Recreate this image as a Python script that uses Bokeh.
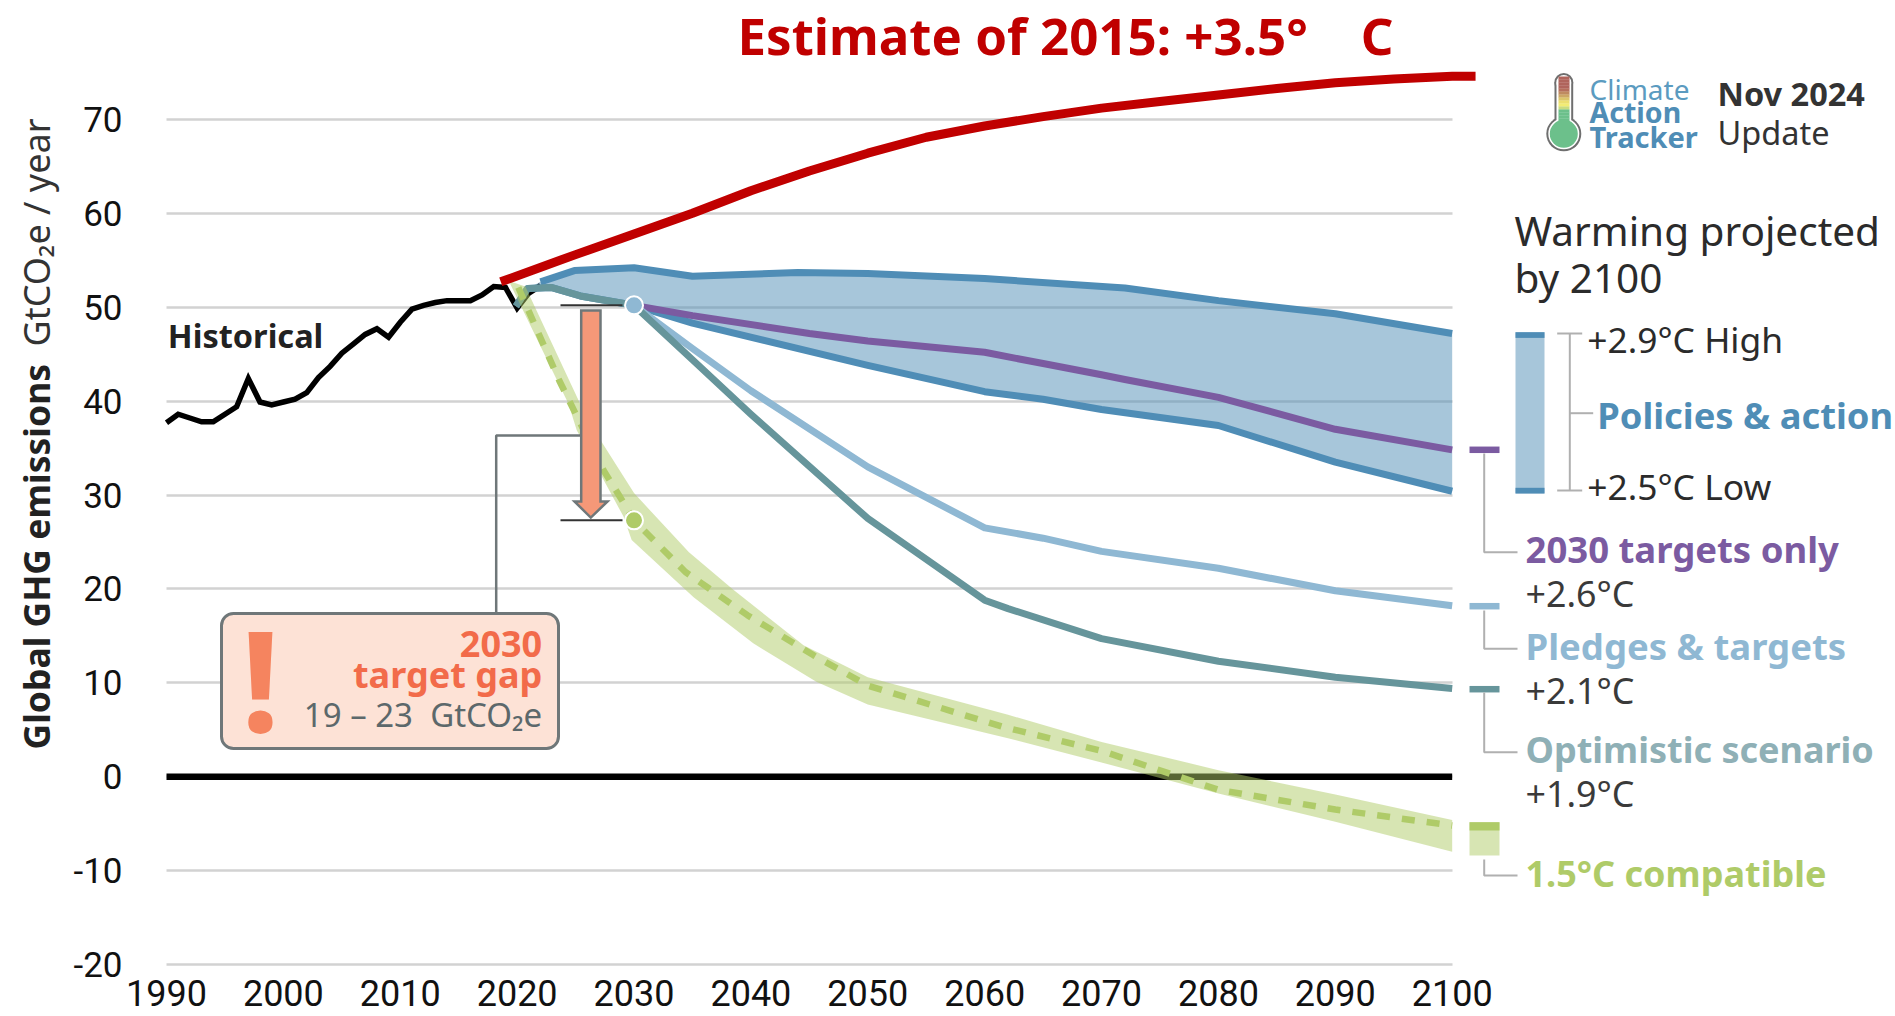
import math
from bokeh.plotting import figure
from bokeh.embed import file_html
from bokeh.resources import INLINE
from bokeh.models import Label, BoxAnnotation, FixedTicker, Range1d

# ---- data ----
hist_years = list(range(1990, 2023))
hist_vals = [37.7, 38.6, 38.2, 37.8, 37.8, 38.6, 39.4, 42.4, 39.9, 39.6, 39.9, 40.2, 40.9, 42.5, 43.7, 45.1, 46.1,
             47.1, 47.7, 46.8, 48.4, 49.8, 50.2, 50.5, 50.7, 50.7, 50.7, 51.3, 52.2, 52.1, 49.9, 51.5, 52.3]

est2015_years = [2018.6, 2025, 2030, 2035, 2040, 2045, 2050, 2055, 2060, 2065, 2070, 2075, 2080, 2085, 2090, 2095, 2100, 2102]
est2015_vals = [52.7, 55.6, 57.8, 60.0, 62.4, 64.5, 66.4, 68.1, 69.3, 70.3, 71.2, 71.9, 72.6, 73.3, 73.9, 74.3, 74.6, 74.6]

high_years = [2019.9, 2020.9, 2022, 2024.9, 2030, 2035, 2044, 2050, 2060, 2072, 2080, 2090, 2100]
high_vals = [50.1, 52.0, 52.7, 53.9, 54.2, 53.3, 53.7, 53.6, 53.05, 52.05, 50.7, 49.3, 47.2]
low_years = [2019.9, 2020.9, 2022.9, 2025.4, 2030, 2035, 2050, 2060, 2065, 2070, 2080, 2090, 2100]
low_vals = [50.1, 52.0, 52.1, 51.2, 50.2, 48.3, 43.8, 41.0, 40.2, 39.1, 37.4, 33.5, 30.4]

targets_years = [2030, 2035, 2045, 2050, 2060, 2065, 2070, 2072, 2080, 2090, 2100]
targets_vals = [50.2, 49.1, 47.2, 46.4, 45.2, 44.0, 42.8, 42.3, 40.4, 37.0, 34.8]

pledges_years = [2030, 2035, 2040, 2050, 2060, 2065, 2070, 2080, 2090, 2100]
pledges_vals = [50.2, 45.6, 41.1, 33.0, 26.5, 25.4, 24.0, 22.2, 19.8, 18.2]

optimistic_years = [2019.9, 2020.9, 2022.9, 2025.4, 2030, 2035, 2040, 2050, 2060, 2062, 2070, 2080, 2090, 2100]
optimistic_vals = [50.1, 52.0, 52.1, 51.2, 50.2, 44.4, 38.6, 27.5, 18.8, 17.9, 14.7, 12.3, 10.6, 9.4]

c15_top_years = [2019.5, 2020.7, 2025.4, 2027.3, 2030, 2034.7, 2038.5, 2044.5, 2050, 2062, 2070, 2080, 2090, 2100]
c15_top_vals = [52.7, 52.2, 39.7, 35.5, 30.2, 23.9, 19.9, 14.0, 10.6, 6.6, 3.7, 0.7, -1.9, -4.6]
c15_low_years = [2019.4, 2024.4, 2025.1, 2029.1, 2029.8, 2035.1, 2040.2, 2045.6, 2050, 2062, 2070, 2080, 2090, 2100]
c15_low_vals = [52.5, 39.7, 36.9, 27.7, 25.2, 19.1, 14.2, 10.1, 7.7, 4.1, 1.5, -1.8, -4.8, -8.0]
c15_mid_years = [2020.1, 2023.6, 2027.4, 2028.7, 2030, 2034.4, 2039.7, 2045.4, 2050, 2061.6, 2070, 2080, 2090, 2100]
c15_mid_vals = [52.1, 42.2, 32.6, 30.0, 27.3, 21.8, 17.2, 12.9, 9.7, 5.3, 2.75, -1.4, -3.5, -5.2]

gap_year = 2030
gap_top = 50.2
gap_bottom = 27.3

x_ticks = list(range(1990, 2101, 10))
y_ticks = list(range(-20, 71, 10))

RED = "#c00000"; BLUE = "#4f8db6"; PURPLE = "#7b5ba1"; PLEDGE = "#8fb8d3"; TEAL = "#66959b"
GREEN = "#afcb68"; ORANGE = "#f59878"; GRAY = "#6f7779"; BRK = "#b0b0b0"
FONT = "Noto Sans"

# page-pixel helpers: the chart's data scale is 11.688 px per year, 9.39 px per GtCO2e
def X(px): return 1990 + (px - 166) / 11.688
def Y(py): return (776.2 - py) / 9.39

p = figure(width=1895, height=1016, output_backend="svg", toolbar_location=None,
           x_range=Range1d(X(0), X(1895)), y_range=Range1d(Y(1016), Y(0)),
           min_border_left=0, min_border_right=0, min_border_top=0, min_border_bottom=0,
           background_fill_color="white", border_fill_color="white")
p.outline_line_color = None
p.xgrid.visible = False
p.ygrid.ticker = FixedTicker(ticks=y_ticks)
p.ygrid.grid_line_color = "#d2d2d2"
p.ygrid.grid_line_width = 2.5
p.ygrid.cross_bounds = (1990, 2100)

for ax, ticks in ((p.xaxis[0], x_ticks), (p.yaxis[0], y_ticks)):
    ax.ticker = FixedTicker(ticks=ticks)
    ax.axis_line_color = None
    ax.major_tick_line_color = None
    ax.minor_tick_line_color = None
    ax.major_label_text_font = "Roboto"
    ax.major_label_text_color = "#111111"
p.xaxis[0].fixed_location = -20
p.yaxis[0].fixed_location = 1990
p.xaxis[0].major_label_text_font_size = "36px"
p.yaxis[0].major_label_text_font_size = "35px"
p.yaxis[0].major_label_overrides = {-20: "-20", -10: "-10"}
p.yaxis[0].major_label_standoff = 38
p.xaxis[0].major_label_standoff = 9

def note(text, px, py, size, color, bold=False, align="left"):
    p.add_layout(Label(x=X(px), y=Y(py - 0.4 * size), text=text, text_font=FONT, text_font_size=f"{size}px", text_color=color,
                       text_font_style="bold" if bold else "normal", text_align=align,
                       text_baseline="alphabetic"))

# zero line
p.segment(x0=[1990], x1=[2100], y0=[0], y1=[0], line_color="black", line_width=6.5)

# policies & action band
p.patch(high_years + low_years[::-1], high_vals + low_vals[::-1], fill_color=BLUE, fill_alpha=0.5, line_color=None)
# historical
p.line(hist_years, hist_vals, line_color="black", line_width=5.5, line_join="miter")
p.line(high_years[2:], high_vals[2:], line_color=BLUE, line_width=7, line_join="round")
p.line(low_years, low_vals, line_color=BLUE, line_width=7, line_join="round")
p.line(targets_years, targets_vals, line_color=PURPLE, line_width=7, line_join="round")
p.line(pledges_years, pledges_vals, line_color=PLEDGE, line_width=7, line_join="round")
p.line(optimistic_years, optimistic_vals, line_color=TEAL, line_width=7, line_join="round")
# 1.5C band
p.patch(c15_top_years + c15_low_years[::-1], c15_top_vals + c15_low_vals[::-1], fill_color=GREEN, fill_alpha=0.5,
        line_color=None)
p.line(c15_mid_years, c15_mid_vals, line_color=GREEN, line_width=6.5, line_dash="13 12")
# 2015 estimate
p.line(est2015_years, est2015_vals, line_color=RED, line_width=9, line_join="round")

# gap connector, whiskers, arrow, dots
p.line([X(495.7), X(495.7), X(580)], [Y(615), Y(435), Y(435)], line_color=GRAY, line_width=2.5)
p.segment(x0=[X(560), X(560)], x1=[X(622), X(622)], y0=[gap_top, gap_bottom], y1=[gap_top, gap_bottom],
          line_color="#333333", line_width=2)
p.patch([X(580.7), X(600), X(600), X(607), X(590.3), X(574), X(580.7)],
        [Y(310), Y(310), Y(501), Y(501), gap_bottom + 0.3, Y(501), Y(501)],
        fill_color=ORANGE, line_color=GRAY, line_width=2.5, line_join="miter")
p.scatter([gap_year], [gap_top], size=18, fill_color=PLEDGE, line_color="white", line_width=2)
p.scatter([gap_year], [gap_bottom], size=18, fill_color=GREEN, line_color="white", line_width=2)

# right-hand markers
p.segment(x0=[X(1469)] * 3, x1=[X(1499)] * 3, y0=[Y(449.3), Y(605.7), Y(688.7)], y1=[Y(449.3), Y(605.7), Y(688.7)],
          line_color=[PURPLE, PLEDGE, TEAL], line_width=6.5)
p.quad(left=[X(1469)], right=[X(1499)], top=[Y(821.7)], bottom=[Y(855)], fill_color=GREEN, fill_alpha=0.5, line_color=None)
p.quad(left=[X(1469)], right=[X(1499)], top=[Y(821.7)], bottom=[Y(830)], fill_color=GREEN, line_color=None)
p.quad(left=[X(1515)], right=[X(1544)], top=[Y(331.7)], bottom=[Y(493)], fill_color=BLUE, fill_alpha=0.5, line_color=None)
p.quad(left=[X(1515), X(1515)], right=[X(1544), X(1544)], top=[Y(331.7), Y(487.3)], bottom=[Y(337.4), Y(493)],
       fill_color=BLUE, line_color=None)

# brackets / connectors
p.multi_line([[X(1556.7), X(1581.7)], [X(1569.3), X(1569.3)], [X(1556.7), X(1581.7)], [X(1569.3), X(1592.7)]],
             [[Y(333), Y(333)], [Y(333), Y(490)], [Y(490), Y(490)], [Y(412.7), Y(412.7)]],
             line_color=BRK, line_width=2)
for top, bot in ((453, 551.7), (610, 648.3), (692, 751.7), (859, 875)):
    p.line([X(1483.7), X(1483.7), X(1517)], [Y(top), Y(bot), Y(bot)], line_color=BRK, line_width=2)

# logo thermometer
p.scatter([X(1563.3)], [Y(133.3)], size=35, fill_color="#6f6f6f", line_color=None)
p.scatter([X(1563.3)], [Y(82)], size=19, fill_color="#6f6f6f", line_color=None)
p.quad(left=[X(1554)], right=[X(1572.7)], top=[Y(82)], bottom=[Y(125)], fill_color="#6f6f6f", line_color=None)
p.scatter([X(1563.3)], [Y(133.3)], size=31, fill_color="white", line_color=None)
p.scatter([X(1563.3)], [Y(82)], size=15, fill_color="white", line_color=None)
p.quad(left=[X(1556)], right=[X(1570.7)], top=[Y(82)], bottom=[Y(125)], fill_color="white", line_color=None)
strip_colors = ["#b0645c", "#b0645c", "#b0645c", "#b0645c", "#b56f5d", "#bf8a60", "#cca665", "#dcc66b", "#ecdf70",
                "#f2ec74", "#c9dc80", "#6cc08b", "#6cc08b", "#6cc08b", "#6cc08b", "#6cc08b"]
strip_top = [76 + 3 * i for i in range(16)]
p.quad(left=[X(1558)] * 16, right=[X(1569)] * 16, top=[Y(t) for t in strip_top], bottom=[Y(t + 3.2) for t in strip_top],
       fill_color=strip_colors, line_color=None)
p.scatter([X(1563.3)], [Y(133.3)], size=28, fill_color="#6cc08b", line_color=None)

# gap box
p.add_layout(BoxAnnotation(left=X(221), right=X(558), top=Y(613), bottom=Y(748), fill_color="#fde2d6", fill_alpha=1,
                           line_color=GRAY, line_alpha=1, line_width=3, border_radius=12))
note("!", 260, 733, 140, "#f5845f", bold=True, align="center")
note("2030", 541.7, 658.3, 36, "#f26b4a", bold=True, align="right")
note("target gap", 541.7, 688, 36, "#f26b4a", bold=True, align="right")
note("19 – 23\u00a0\u00a0GtCO₂e", 541.7, 727, 33, "#5c686b", align="right")

# titles and labels
note("Estimate of 2015: +3.5°\u00a0\u00a0\u00a0\u00a0C", 737, 55, 51, RED, bold=True)
note("Historical", 167.3, 348.3, 32.5, "#222222", bold=True)

note("Climate", 1589, 99.3, 28, "#5b9bc0")
note("Action", 1589, 123.3, 28.5, "#4f8db6", bold=True)
note("Tracker", 1589, 147.3, 29, "#4f8db6", bold=True)
note("Nov 2024", 1717, 106, 32.5, "#333333", bold=True)
note("Update", 1717, 145, 32.5, "#333333")

note("Warming projected", 1514, 246, 40.5, "#2b2b2b")
note("by 2100", 1514, 292.7, 40.5, "#2b2b2b")
note("+2.9°C High", 1586.7, 352.7, 35.4, "#2b2b2b")
note("Policies & action", 1596.7, 429, 36.3, BLUE, bold=True)
note("+2.5°C Low", 1586.7, 499.3, 35.4, "#2b2b2b")
note("2030 targets only", 1525, 562.7, 36.5, PURPLE, bold=True)
note("+2.6°C", 1525, 607.3, 35.8, "#3a3a3a")
note("Pledges & targets", 1525, 660, 36.5, PLEDGE, bold=True)
note("+2.1°C", 1525, 704, 35.8, "#3a3a3a")
note("Optimistic scenario", 1525, 763, 36, "#8fb0b6", bold=True)
note("+1.9°C", 1525, 807.3, 35.8, "#3a3a3a")
note("1.5°C compatible", 1525, 887.3, 36, GREEN, bold=True)

# rotated axis title, two weights
p.add_layout(Label(x=X(50 - 0.4 * 35.5), y=Y(749), text="Global GHG emissions", text_font=FONT,
                   text_font_size="35.5px", text_font_style="bold", text_color="#222222", angle=math.pi / 2,
                   text_baseline="alphabetic"))
p.add_layout(Label(x=X(50 - 0.4 * 36), y=Y(346), text="GtCO₂e / year", text_font=FONT,
                   text_font_size="36px", text_color="#333333", angle=math.pi / 2, text_baseline="alphabetic"))

open("out.html", "w").write(file_html(p, INLINE))
